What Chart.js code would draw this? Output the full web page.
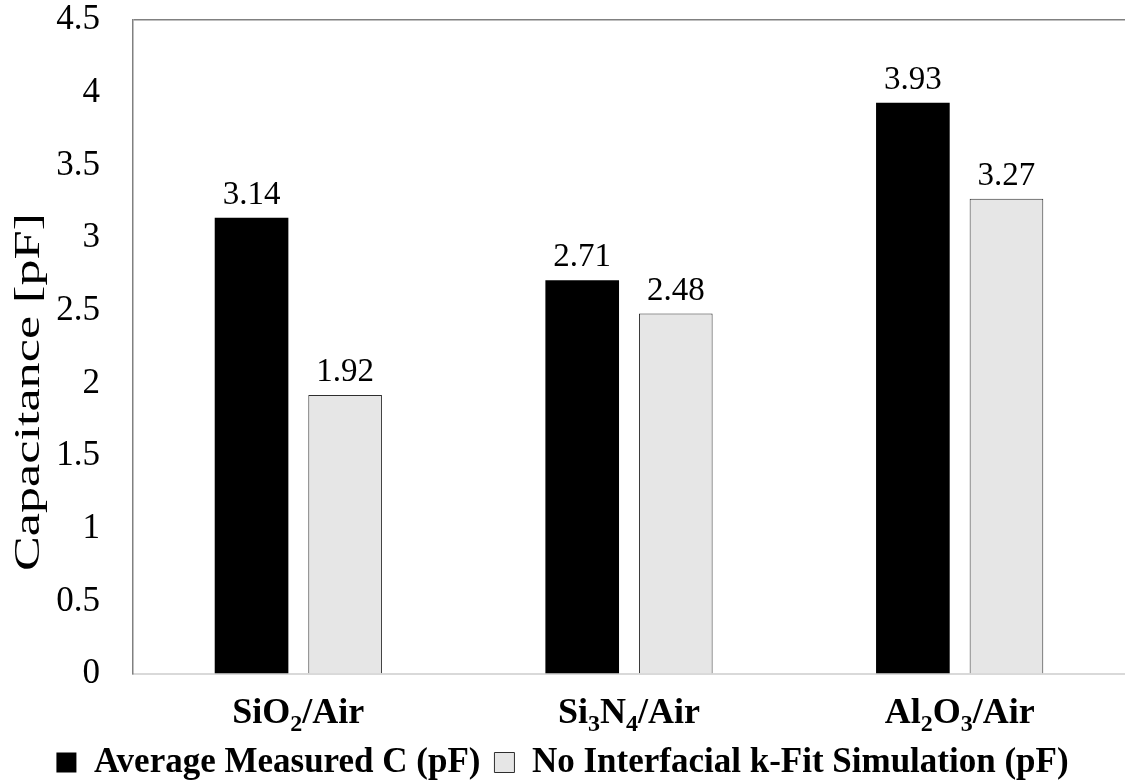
<!DOCTYPE html>
<html>
<head>
<meta charset="utf-8">
<script src="https://cdn.jsdelivr.net/npm/chart.js@4"></script>
<style>
    body { margin: 0; background: #fff; overflow: hidden; }
</style>
</head>
<body>
<canvas id="capChart" width="1125" height="782"></canvas>
<script>
// "_x" marks a subscript character
const categories = ["SiO_2/Air", "Si_3N_4/Air", "Al_2O_3/Air"];
const measuredC = [3.14, 2.71, 3.93];
const simulatedC = [1.92, 2.48, 3.27];
const seriesNames = ["Average Measured C (pF)", "No Interfacial k-Fit Simulation (pF)"];
const yTitle = "Capacitance [pF]";
const yMin = 0, yMax = 4.5, yStep = 0.5;

const serif = "'Liberation Serif', 'Times New Roman', serif";

function plainLabel(s) {
    return s.replace(/_/g, "");
}

// split "SiO_2/Air" into runs of normal / subscript text
function labelRuns(s) {
    let runs = [];
    for (let i = 0; i < s.length; i++) {
        if (s[i] == "_" && i + 1 < s.length) {
            runs.push({text: s[i + 1], sub: true});
            i++;
        } else if (runs.length && !runs[runs.length - 1].sub) {
            runs[runs.length - 1].text += s[i];
        } else {
            runs.push({text: s[i], sub: false});
        }
    }
    return runs;
}

const subscriptLabels = {
    id: "subscriptLabels",
    afterDraw(chart) {
        const ctx = chart.ctx;
        const xs = chart.scales.x;
        const mainFont = "bold 36px " + serif;
        const subFont = "bold 24px " + serif;
        ctx.save();
        ctx.fillStyle = "#000";
        ctx.textBaseline = "alphabetic";
        ctx.textAlign = "left";
        categories.forEach((cat, i) => {
            const runs = labelRuns(cat);
            let total = 0;
            for (let r of runs) {
                ctx.font = r.sub ? subFont : mainFont;
                r.w = ctx.measureText(r.text).width;
                total += r.w;
            }
            let x = xs.getPixelForTick(i) - total / 2;
            const base = xs.top + 49;
            for (let r of runs) {
                ctx.font = r.sub ? subFont : mainFont;
                ctx.fillText(r.text, x, r.sub ? base + 8 : base);
                x += r.w;
            }
        });
        ctx.restore();
    }
};

const valueLabels = {
    id: "valueLabels",
    afterDatasetsDraw(chart) {
        const ctx = chart.ctx;
        ctx.save();
        ctx.font = "33px " + serif;
        ctx.fillStyle = "#000";
        ctx.textAlign = "center";
        ctx.textBaseline = "alphabetic";
        chart.data.datasets.forEach((ds, di) => {
            chart.getDatasetMeta(di).data.forEach((bar, i) => {
                ctx.fillText(ds.data[i].toFixed(2), bar.x, bar.y - 14);
            });
        });
        ctx.restore();
    }
};

// the axis title is stretched along its length, like the original
const yAxisTitle = {
    id: "yAxisTitle",
    afterDraw(chart) {
        const ctx = chart.ctx;
        ctx.save();
        ctx.font = "35px " + serif;
        ctx.fillStyle = "#000";
        ctx.textAlign = "center";
        ctx.textBaseline = "middle";
        const w = ctx.measureText(yTitle).width;
        ctx.translate(30, 392);
        ctx.rotate(-Math.PI / 2);
        ctx.scale(358 / w, 1);
        ctx.fillText(yTitle, 0, 0);
        ctx.restore();
    }
};

new Chart("capChart", {
    type: "bar",
    data: {
        labels: categories.map(plainLabel),
        datasets: [
            {
                label: seriesNames[0],
                data: measuredC,
                backgroundColor: "#000000",
                borderColor: "#000000",
                borderWidth: 0,
            },
            {
                label: seriesNames[1],
                data: simulatedC,
                backgroundColor: "#e6e6e6",
                borderColor: "#2e2e2e",
                borderWidth: 1,
            },
        ],
    },
    options: {
        responsive: false,
        animation: false,
        devicePixelRatio: 1,
        categoryPercentage: 0.566,
        barPercentage: 0.787,
        layout: {
            padding: {left: 0, right: 0, top: 0, bottom: -8},
        },
        plugins: {
            tooltip: {enabled: false},
            legend: {
                position: "bottom",
                labels: {
                    color: "#000",
                    font: {family: serif, size: 35, weight: "bold"},
                    boxWidth: 20,
                    boxHeight: 20,
                    padding: 14,
                },
            },
        },
        scales: {
            x: {
                grid: {display: false, drawTicks: false},
                border: {display: true, color: "#d9d9d9", width: 2},
                afterFit: (s) => { s.height = 57; },
                ticks: {
                    color: "rgba(0,0,0,0)",
                    font: {family: serif, size: 36, weight: "bold"},
                    padding: 10,
                },
            },
            y: {
                min: yMin,
                max: yMax,
                afterFit: (s) => {
                    s.width = 133;
                    s.paddingTop = 20;
                    s.paddingBottom = 0;
                },
                grid: {
                    drawTicks: false,
                    color: (c) => c.tick && c.tick.value == yMax ? "#808080" : "rgba(0,0,0,0)",
                    lineWidth: 1.5,
                },
                border: {display: true, color: "#808080", width: 1.5},
                ticks: {
                    stepSize: yStep,
                    color: "#000",
                    font: {family: serif, size: 35},
                    padding: 33,
                    callback: (v) => String(v),
                },
            },
        },
    },
    plugins: [subscriptLabels, valueLabels, yAxisTitle],
});
</script>
</body>
</html>
